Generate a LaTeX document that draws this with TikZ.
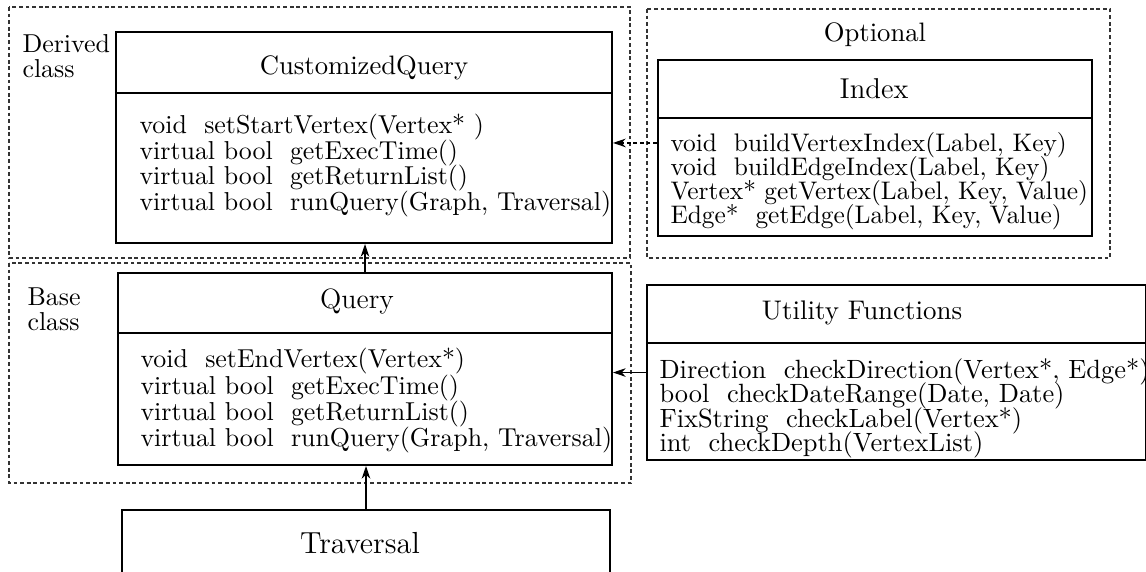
\documentclass[tikz,border=0pt]{standalone}
\usepackage{tikz}
\usetikzlibrary{positioning, arrows.meta, fit}

\newcommand\tightlines{\lineskiplimit=-20pt\relax}

\begin{document}
\begin{tikzpicture}[
    x=0.3937pt, y=-0.3937pt,
    every node/.style={font=\fontsize{10}{12}\selectfont},
    classbox/.style={rectangle, draw=black, line width=0.8pt, inner sep=0pt},
    divider/.style={line width=0.7pt},
    title/.style={font=\fontsize{11}{13}\selectfont, inner sep=0pt},
    methods/.style={align=left, anchor=north west, inner sep=0pt,
        font=\fontsize{10.2}{10.2}\selectfont\tightlines},
    grouplabel/.style={align=left, anchor=north west, inner sep=0pt,
        font=\fontsize{10.2}{9.9}\selectfont\tightlines},
    group/.style={draw=black!80, line width=0.45pt, dash pattern=on 1.5pt off 1.1pt},
    link/.style={-{Stealth[length=5pt, width=3.4pt, inset=1.6pt]}, line width=0.45pt}
]
\useasboundingbox (0,0) rectangle (1146,571);
\clip (0,0) rectangle (1146,571);

% Groups
\draw[group] (9,7) rectangle (630,258);
\draw[group] (9,263) rectangle (631,483);
\draw[group] (647,9) rectangle (1110,258);

\node[grouplabel] (derived) at (22,34) {Derived\\class};
\node[grouplabel] (base) at (27,287) {Base\\class};
\node[font=\fontsize{10.5}{12}\selectfont, inner sep=0pt] (optional) at (875,35) {Optional};

% Classes
\node[classbox, fit={(116,32) (612,243)}] (cq) {};
\node[classbox, fit={(118,273) (612,465)}] (query) {};
\node[classbox, fit={(122,510) (610,640)}] (trav) {};
\node[classbox, fit={(658,60) (1092,236)}] (index) {};
\node[classbox, fit={(647,285) (1146,460)}] (util) {};

\draw[divider] (cq.west |- 0,93) -- (cq.east |- 0,93);
\draw[divider] (query.west |- 0,333) -- (query.east |- 0,333);
\draw[divider] (index.west |- 0,118) -- (index.east |- 0,118);
\draw[divider] (util.west |- 0,343) -- (util.east |- 0,343);

\node[title, font=\fontsize{10.5}{13}\selectfont] (cq-title) at (364,68) {CustomizedQuery};
\node[title] (query-title) at (357,302) {Query};
\node[title, font=\fontsize{12}{14}\selectfont] (trav-title) at (360,543) {Traversal};
\node[title, font=\fontsize{11.3}{13}\selectfont] (index-title) at (874,89) {Index};
\node[title, font=\fontsize{10.6}{13}\selectfont] (util-title) at (862,313) {Utility Functions};

\node[methods, font=\fontsize{10.2}{10}\selectfont\tightlines] (cq-methods) at (139,114) {void\ \ setStartVertex(Vertex* )\\virtual bool\ \ getExecTime()\\virtual bool\ \ getReturnList()\\virtual bool\ \ runQuery(Graph, Traversal)};
\node[methods, font=\fontsize{10.2}{10.35}\selectfont\tightlines] (query-methods) at (140,348) {void\ \ setEndVertex(Vertex*)\\virtual bool\ \ getExecTime()\\virtual bool\ \ getReturnList()\\virtual bool\ \ runQuery(Graph, Traversal)};
\node[methods, font=\fontsize{10}{9.4}\selectfont\tightlines] (index-methods) at (670,132) {void\ \ buildVertexIndex(Label, Key)\\void\ \ buildEdgeIndex(Label, Key)\\Vertex* getVertex(Label, Key, Value)\\Edge*\ \ getEdge(Label, Key, Value)};
\node[methods, font=\fontsize{10.4}{9.6}\selectfont\tightlines] (util-methods) at (659,358) {Direction\ \ checkDirection(Vertex*, Edge*)\\bool\ \ checkDateRange(Date, Date)\\FixString\ \ checkLabel(Vertex*)\\int\ \ checkDepth(VertexList)};

% Arrows
\draw[link] (query.north) -- (query.north |- cq.south);
\draw[link] (trav.north) -- (trav.north |- query.south);
\draw[link, dash pattern=on 1.5pt off 1.1pt] ([yshift=2pt]index.west) -- ([yshift=2pt]index.west -| cq.east);
\draw[link] (util.west) -- (util.west -| query.east);

\end{tikzpicture}
\end{document}
